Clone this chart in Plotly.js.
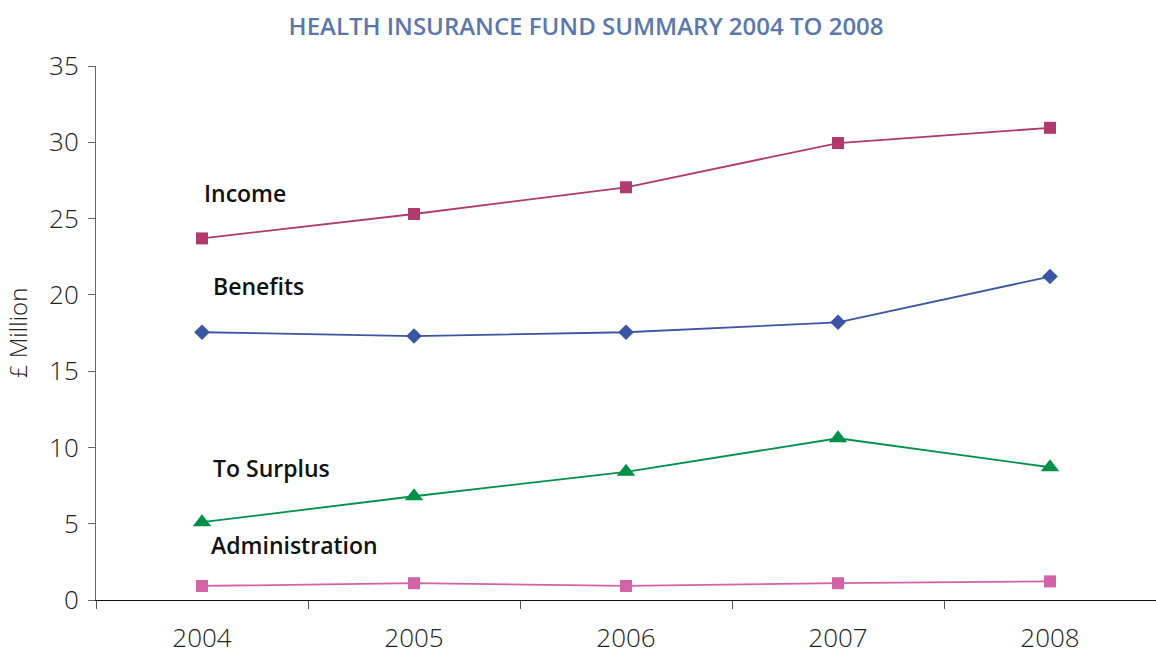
<!DOCTYPE html>
<html>
<head>
<meta charset="utf-8">
<script src="https://cdn.plot.ly/plotly-3.0.1.min.js"></script>
<style>
html,body{margin:0;padding:0;background:#fff;}
#chart{width:1156px;height:654px;}
</style>
</head>
<body>
<div id="chart"></div>
<script>
const years = ["2004", "2005", "2006", "2007", "2008"];
const income = [23.7, 25.3, 27.05, 29.95, 30.95];
const benefits = [17.55, 17.3, 17.55, 18.2, 21.2];
const toSurplus = [5.1, 6.8, 8.4, 10.6, 8.7];
const administration = [0.92, 1.1, 0.92, 1.1, 1.22];
const seriesLabels = ["Income", "Benefits", "To Surplus", "Administration"];
const labelY = [26.65, 20.6, 8.65, 3.6];
const labelShift = [0, 9, 9, 7];

const font = "'Open Sans', 'Noto Sans', sans-serif";

const traces = [
  {x: years, y: income, mode: "lines+markers", name: seriesLabels[0],
   line: {color: "#b0396f", width: 1.8},
   marker: {symbol: "square", size: 12, color: "#b0396f"}},
  {x: years, y: benefits, mode: "lines+markers", name: seriesLabels[1],
   line: {color: "#3a55a4", width: 1.8},
   marker: {symbol: "diamond", size: 12, color: "#3a55a4"}},
  {x: years, y: toSurplus, mode: "lines+markers", name: seriesLabels[2],
   line: {color: "#00904a", width: 1.8},
   marker: {symbol: "triangle-up", size: 16, color: "#00904a"}},
  {x: years, y: administration, mode: "lines+markers", name: seriesLabels[3],
   line: {color: "#d263a9", width: 1.8},
   marker: {symbol: "square", size: 12, color: "#d263a9"}}
];

const annotations = seriesLabels.map((t, i) => ({
  text: t, xref: "x", yref: "y", x: 0, y: labelY[i],
  xanchor: "left", yanchor: "middle", xshift: labelShift[i],
  showarrow: false,
  font: {family: font, size: 23, color: "#111", weight: 600}
}));

const layout = {
  width: 1156, height: 654,
  margin: {l: 96, r: 0, t: 66, b: 54},
  paper_bgcolor: "#fff", plot_bgcolor: "#fff",
  showlegend: false,
  title: {
    text: "HEALTH INSURANCE FUND SUMMARY 2004 TO 2008",
    x: 0.507, xanchor: "center", y: 0.96, yanchor: "middle",
    font: {family: font, size: 24, color: "#5b78ac", weight: 600}
  },
  xaxis: {
    type: "category", range: [-0.5, 4.5],
    showgrid: false, zeroline: false,
    showline: true, linecolor: "#111", linewidth: 1,
    ticks: "outside", tickson: "boundaries", ticklen: 8, tickcolor: "#555", tickwidth: 1,
    tickfont: {family: font, size: 26, color: "#222", weight: 300},
    ticklabelstandoff: 15
  },
  yaxis: {
    range: [0, 35], dtick: 5, tick0: 0,
    showgrid: false, zeroline: false,
    showline: true, linecolor: "#666", linewidth: 1,
    ticks: "outside", ticklen: 7, tickcolor: "#666", tickwidth: 1,
    tickfont: {family: font, size: 26, color: "#222", weight: 300},
    ticklabelstandoff: 4,
    title: {text: "£ Million", standoff: 14,
            font: {family: font, size: 24, color: "#222", weight: 300}}
  },
  annotations: annotations
};

Plotly.newPlot("chart", traces, layout, {displayModeBar: false, staticPlot: true});
</script>
</body>
</html>
